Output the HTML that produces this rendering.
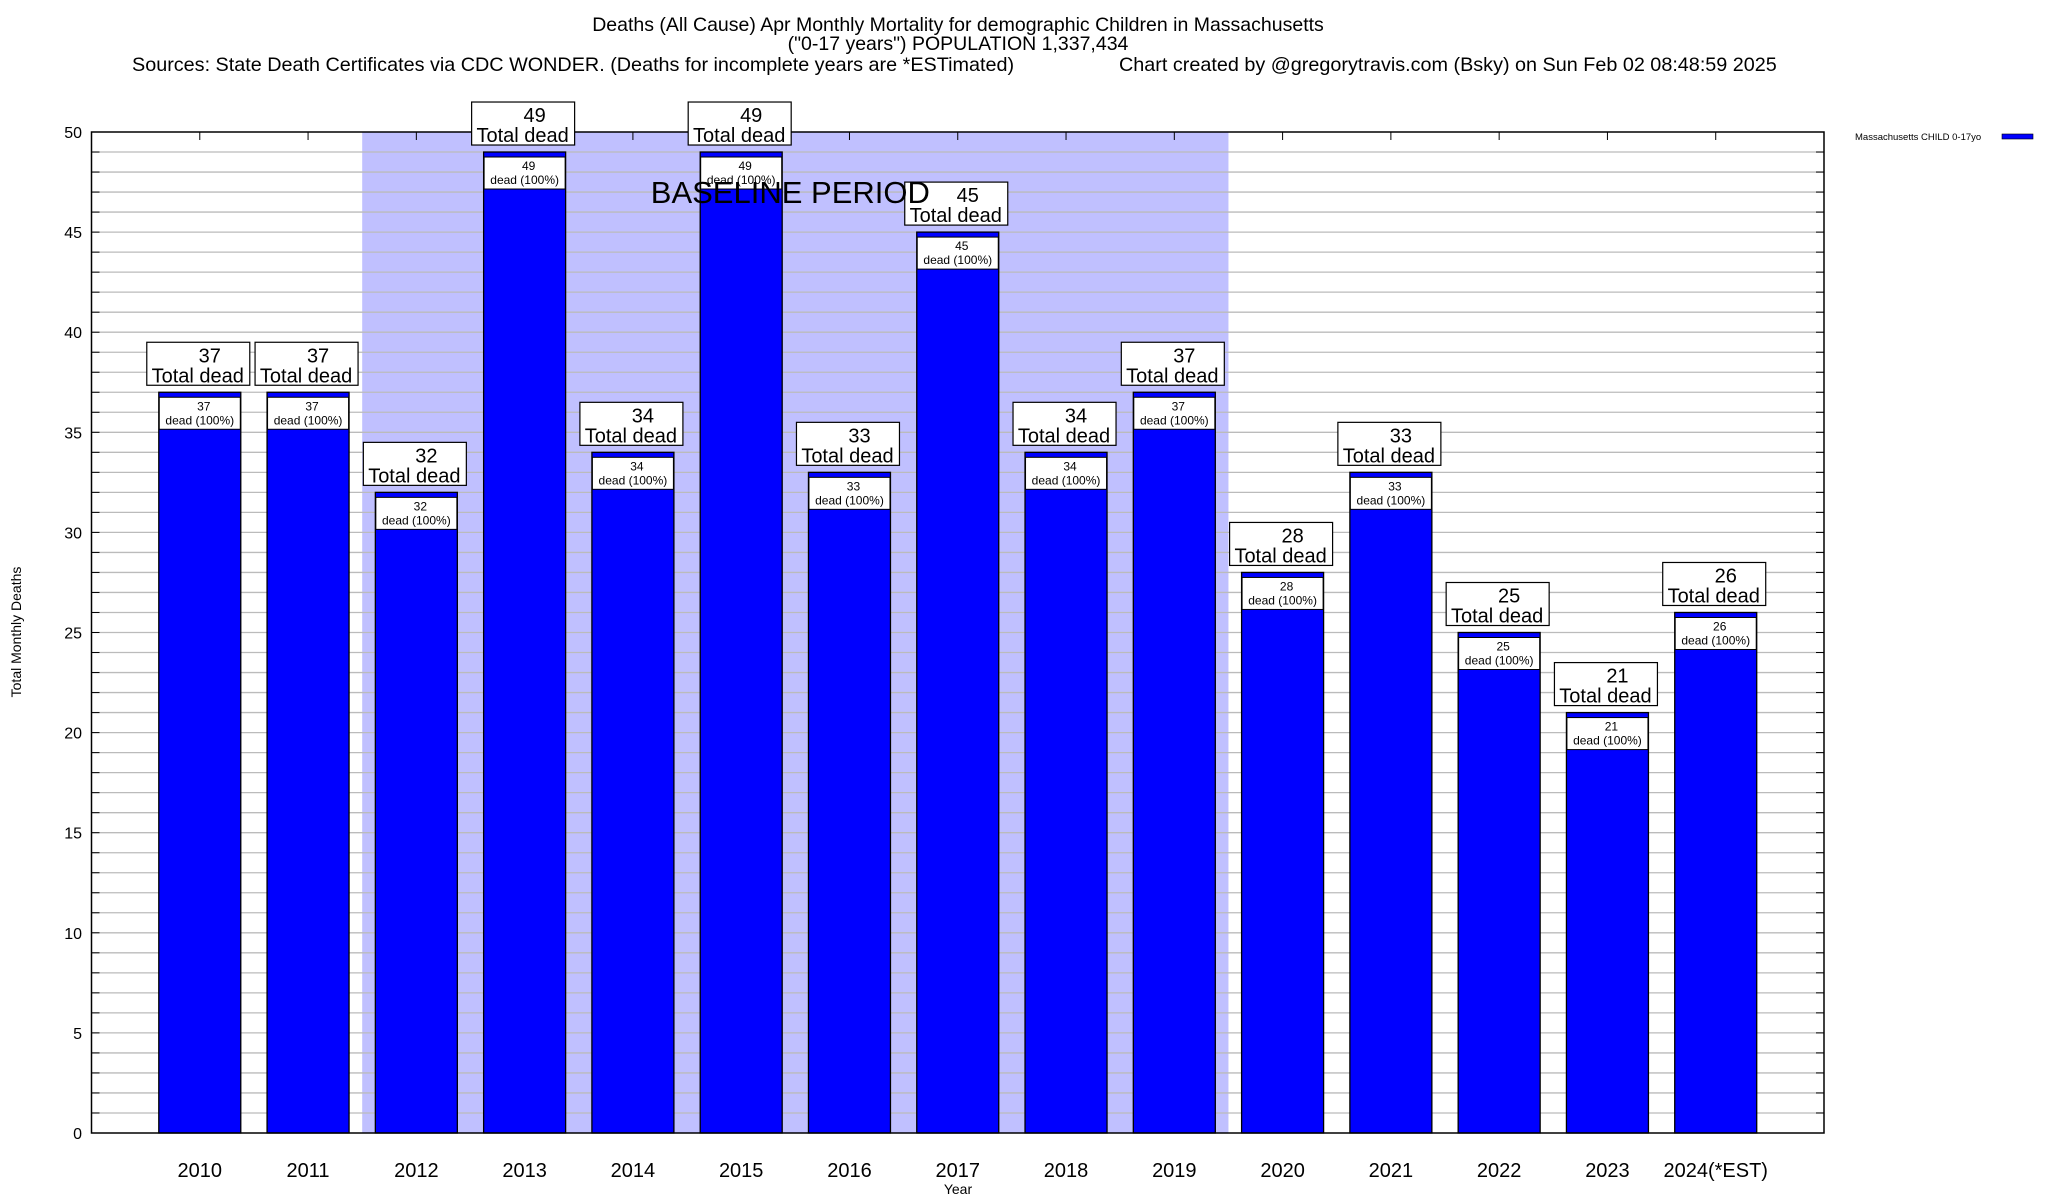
<!DOCTYPE html>
<html><head><meta charset="utf-8"><style>
html,body{margin:0;padding:0;background:#fff;}
svg{display:block;font-family:"Liberation Sans",sans-serif;}
</style></head><body>
<svg id="chart" width="2048" height="1200" viewBox="0 0 2048 1200" xmlns="http://www.w3.org/2000/svg">
<rect width="2048" height="1200" fill="#fff"/>
<g font-size="19.5" text-anchor="middle" fill="#000">
<text x="958" y="31">Deaths (All Cause) Apr Monthly Mortality for demographic Children in Massachusetts</text>
<text x="958" y="50">("0-17 years") POPULATION 1,337,434</text>
</g>
<text x="132" y="71" font-size="19.8">Sources: State Death Certificates via CDC WONDER. (Deaths for incomplete years are *ESTimated)</text>
<text x="1119" y="71" font-size="19.8">Chart created by @gregorytravis.com (Bsky) on Sun Feb 02 08:48:59 2025</text>
<g id="plot"></g>
<g>
<text x="1855" y="140" font-size="9.5">Massachusetts CHILD 0-17yo</text>
<rect x="2002" y="134" width="31" height="5" fill="#0000ff" stroke="#000" stroke-width="0.6"/>
</g>
<text transform="translate(21,632) rotate(-90)" text-anchor="middle" font-size="14">Total Monthly Deaths</text>
<text x="958" y="1194" text-anchor="middle" font-size="14">Year</text>
</svg>
<script>
const categories = ["2010","2011","2012","2013","2014","2015","2016","2017","2018","2019","2020","2021","2022","2023","2024(*EST)"];
const deaths = [37,37,32,49,34,49,33,45,34,37,28,33,25,21,26];
const yTicks = [0,5,10,15,20,25,30,35,40,45,50];
const baselineStart = 2, baselineEnd = 9;

const L=91.5, R=1824, T=132, B=1133, yMax=50;
const band=(R-L)/16;
const xPos = i => L + (i+1)*band;
const yPos = v => B - (v/yMax)*(B-T);
const NS="http://www.w3.org/2000/svg";
const plot=document.getElementById('plot');
function mk(tag,attrs,parent){const e=document.createElementNS(NS,tag);for(const k in attrs)e.setAttribute(k,attrs[k]);(parent||plot).appendChild(e);return e;}

const shade=mk('rect',{x:xPos(baselineStart)-band/2,y:T,width:(baselineEnd-baselineStart+1)*band,height:B-T,fill:'#c0c0ff'});


for(let v=1;v<yMax;v++){
  const g=mk('line',{x1:L,x2:R,y1:yPos(v),y2:yPos(v),stroke:'#bbb','stroke-width':1.3});
  
  
  mk('line',{x1:L,x2:L+8,y1:yPos(v),y2:yPos(v),stroke:'#000','stroke-width':1});
  mk('line',{x1:R-8,x2:R,y1:yPos(v),y2:yPos(v),stroke:'#000','stroke-width':1});
}
yTicks.forEach(v=>{
  const t=mk('text',{x:82,y:yPos(v)+6,'font-size':16,'text-anchor':'end'});
  t.textContent=v;
  
  
});
const bw=82;
categories.forEach((c,i)=>{
  const v=deaths[i], x=xPos(i), y=yPos(v);
  const b=mk('rect',{x:x-bw/2,y:y,width:bw,height:B-y,fill:'#0000ff',stroke:'#000','stroke-width':1.3});
  
  
  const ib=mk('rect',{x:x-bw/2+0.5,y:y+5,width:bw-1,height:32,fill:'#fff',stroke:'#000','stroke-width':1});
  
  
  const t1=mk('text',{x:x+4,y:y+18,'font-size':12,'text-anchor':'middle'});t1.textContent=v;
  const t2=mk('text',{x:x,y:y+32,'font-size':12,'text-anchor':'middle'});t2.textContent='dead (100%)';
  const xl=mk('text',{x:x,y:1177,'font-size':20,'text-anchor':'middle'});xl.textContent=c;
  
  
  mk('line',{x1:x,x2:x,y1:T,y2:T+8,stroke:'#000','stroke-width':1});
});
const fr=mk('rect',{x:L,y:T,width:R-L,height:B-T,fill:'none',stroke:'#000','stroke-width':1.5});


categories.forEach((c,i)=>{
  const v=deaths[i], x=xPos(i), y=yPos(v);
  const ob=mk('rect',{x:x-53,y:y-50,width:103,height:43,fill:'#fff',stroke:'#000','stroke-width':1.2});
  
  
  const t3=mk('text',{x:x+10,y:y-30,'font-size':20,'text-anchor':'middle'});t3.textContent=v;
  const t4=mk('text',{x:x-2,y:y-10,'font-size':20,'text-anchor':'middle'});t4.textContent='Total dead';
});
const bl=mk('text',{x:xPos(5.5)-5,y:203,'font-size':31,'text-anchor':'middle'});
bl.textContent='BASELINE PERIOD';


</script>
</body></html>
